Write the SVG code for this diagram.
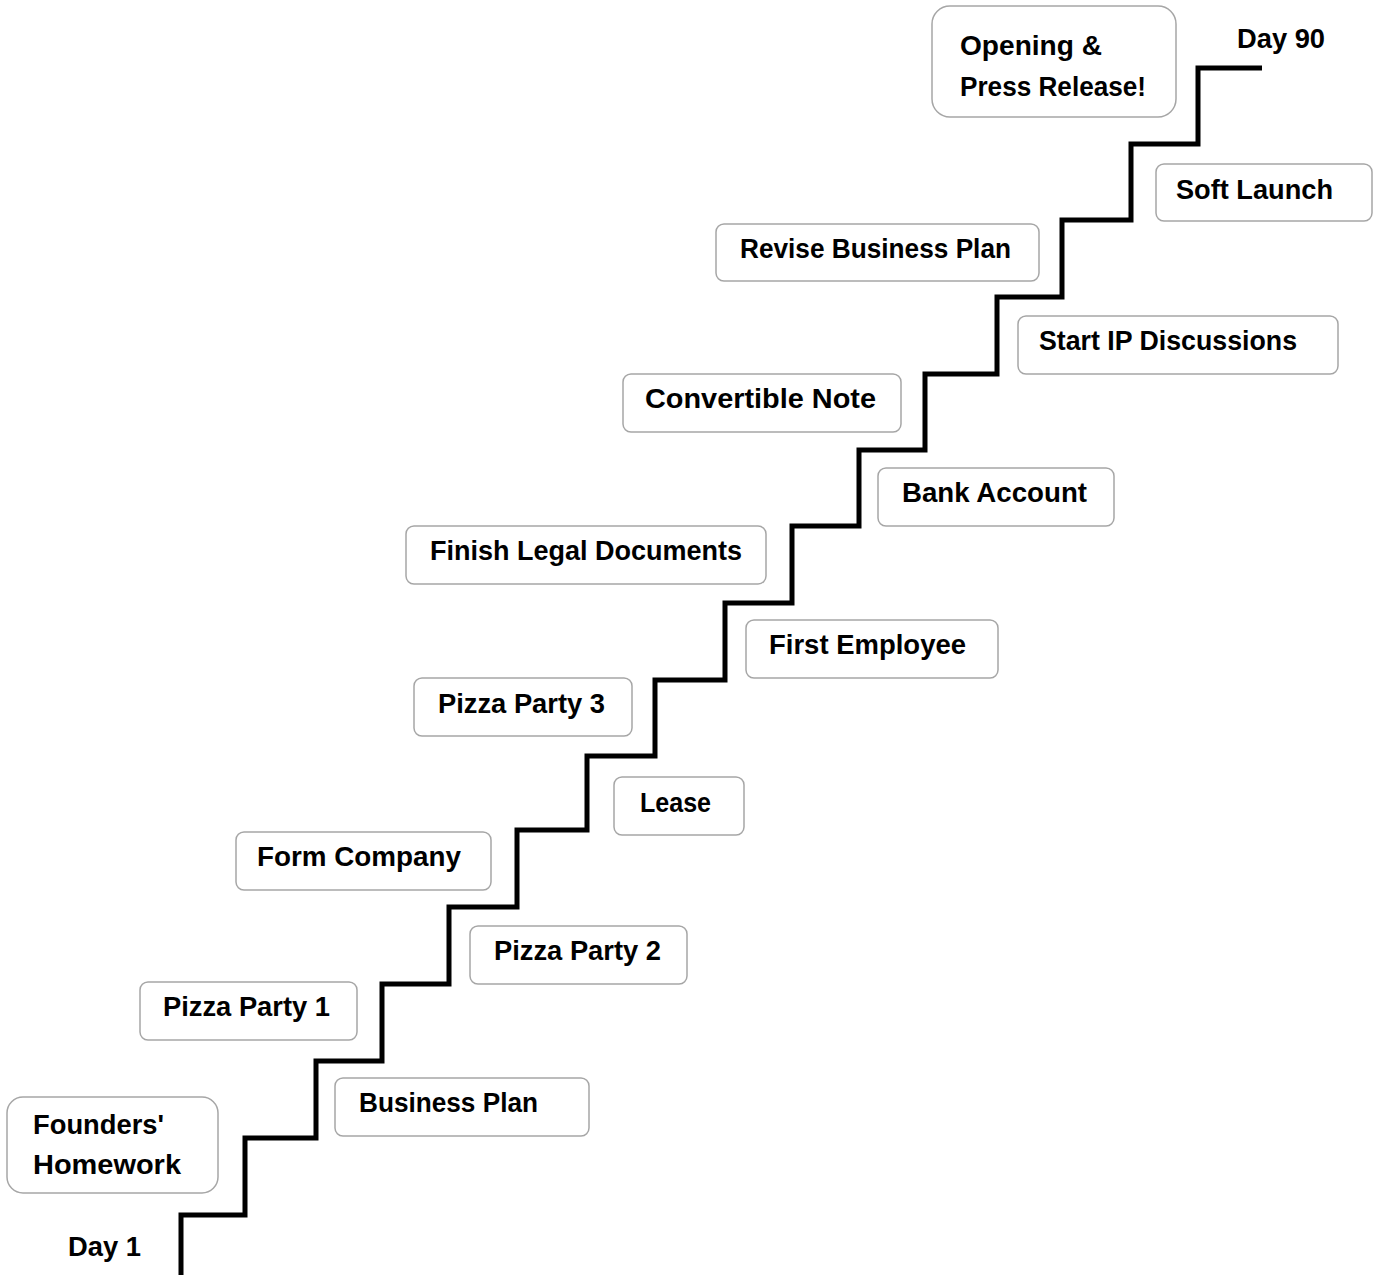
<svg xmlns="http://www.w3.org/2000/svg" width="1378" height="1275" viewBox="0 0 1378 1275">
<style>
.box{fill:#fff;stroke:#a6a6a6;stroke-width:1.5}
.t{font-family:"Liberation Sans",Arial,sans-serif;font-weight:bold;font-size:27px;fill:#000}
.stair{fill:none;stroke:#000;stroke-width:5;stroke-linejoin:miter}
</style>
<rect width="1378" height="1275" fill="#fff"/>
<g id="connectors">
<path class="stair" d="M181,1275 V1215 H245 V1138 H316 V1061 H382 V984 H449 V907 H517 V830 H587 V756 H655 V680 H725 V603 H792 V526 H859 V450 H925 V374 H997 V297 H1062 V220 H1131 V144 H1198 V68 H1262"/>
</g>
<g id="day1"><text class="t" x="68" y="1256" textLength="73" lengthAdjust="spacingAndGlyphs">Day 1</text></g>
<g id="day90"><text class="t" x="1237" y="48" textLength="88" lengthAdjust="spacingAndGlyphs">Day 90</text></g>
<g id="founders"><rect class="box" x="7" y="1097" width="211" height="96" rx="16"/><text class="t" x="33" y="1134" textLength="131" lengthAdjust="spacingAndGlyphs">Founders'</text><text class="t" x="33" y="1174" textLength="148" lengthAdjust="spacingAndGlyphs">Homework</text></g>
<g id="business-plan"><rect class="box" x="335" y="1078" width="254" height="58" rx="8"/><text class="t" x="359" y="1112" textLength="179" lengthAdjust="spacingAndGlyphs">Business Plan</text></g>
<g id="pizza1"><rect class="box" x="140" y="982" width="217" height="58" rx="8"/><text class="t" x="163" y="1016" textLength="167" lengthAdjust="spacingAndGlyphs">Pizza Party 1</text></g>
<g id="pizza2"><rect class="box" x="470" y="926" width="217" height="58" rx="8"/><text class="t" x="494" y="960" textLength="167" lengthAdjust="spacingAndGlyphs">Pizza Party 2</text></g>
<g id="form-company"><rect class="box" x="236" y="832" width="255" height="58" rx="8"/><text class="t" x="257" y="866" textLength="204" lengthAdjust="spacingAndGlyphs">Form Company</text></g>
<g id="lease"><rect class="box" x="614" y="777" width="130" height="58" rx="8"/><text class="t" x="640" y="812" textLength="71" lengthAdjust="spacingAndGlyphs">Lease</text></g>
<g id="pizza3"><rect class="box" x="414" y="678" width="218" height="58" rx="8"/><text class="t" x="438" y="713" textLength="167" lengthAdjust="spacingAndGlyphs">Pizza Party 3</text></g>
<g id="first-employee"><rect class="box" x="746" y="620" width="252" height="58" rx="8"/><text class="t" x="769" y="654" textLength="197" lengthAdjust="spacingAndGlyphs">First Employee</text></g>
<g id="finish-legal"><rect class="box" x="406" y="526" width="360" height="58" rx="8"/><text class="t" x="430" y="560" textLength="312" lengthAdjust="spacingAndGlyphs">Finish Legal Documents</text></g>
<g id="bank-account"><rect class="box" x="878" y="468" width="236" height="58" rx="8"/><text class="t" x="902" y="502" textLength="185" lengthAdjust="spacingAndGlyphs">Bank Account</text></g>
<g id="convertible-note"><rect class="box" x="623" y="374" width="278" height="58" rx="8"/><text class="t" x="645" y="408" textLength="231" lengthAdjust="spacingAndGlyphs">Convertible Note</text></g>
<g id="start-ip"><rect class="box" x="1018" y="316" width="320" height="58" rx="8"/><text class="t" x="1039" y="350" textLength="258" lengthAdjust="spacingAndGlyphs">Start IP Discussions</text></g>
<g id="revise-plan"><rect class="box" x="716" y="224" width="323" height="57" rx="8"/><text class="t" x="740" y="258" textLength="271" lengthAdjust="spacingAndGlyphs">Revise Business Plan</text></g>
<g id="soft-launch"><rect class="box" x="1156" y="164" width="216" height="57" rx="8"/><text class="t" x="1176" y="199" textLength="157" lengthAdjust="spacingAndGlyphs">Soft Launch</text></g>
<g id="opening"><rect class="box" x="932" y="6" width="244" height="111" rx="18"/><text class="t" x="960" y="55" textLength="142" lengthAdjust="spacingAndGlyphs">Opening &amp;</text><text class="t" x="960" y="96" textLength="186" lengthAdjust="spacingAndGlyphs">Press Release!</text></g>
</svg>
